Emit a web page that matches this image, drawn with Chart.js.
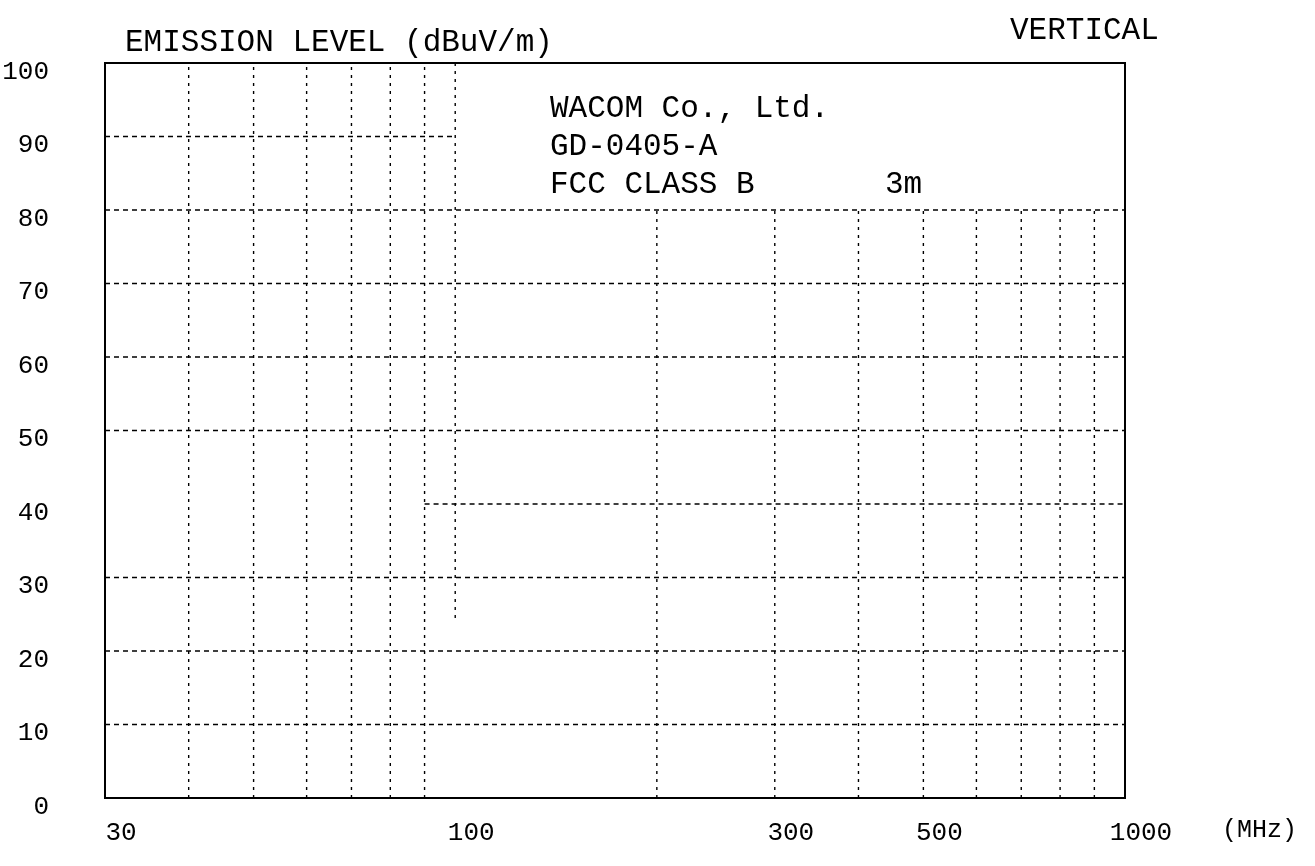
<!DOCTYPE html>
<html>
<head>
<meta charset="utf-8">
<script src="https://cdn.jsdelivr.net/npm/chart.js@4/dist/chart.umd.min.js"></script>
<style>
html,body{margin:0;padding:0;background:#fff;}
#wrap{width:1315px;height:866px;position:relative;}
</style>
</head>
<body>
<div id="wrap"><canvas id="c"></canvas></div>
<script>
// ---- data (frequency in MHz, level in dBuV/m) ----
const xTickValues = [30, 100, 300, 500, 1000];
const xTickLabels = ['30', '100', '300', '500', '1000'];
const yTickValues = [0, 10, 20, 30, 40, 50, 60, 70, 80, 90, 100];
// vertical grid lines: frequency, from level, to level
const vGridFreq = [40, 50, 60, 70, 80, 90, 100, 200, 300, 400, 500, 600, 700, 800, 900];
const vGridFrom = [0, 0, 0, 0, 0, 0, 24.5, 0, 0, 0, 0, 0, 0, 0, 0];
const vGridTo   = [100, 100, 100, 100, 100, 100, 100, 80, 80, 80, 80, 80, 80, 80, 80];
// horizontal grid lines: level, from frequency, to frequency
const hGridLevel = [10, 20, 30, 40, 50, 60, 70, 80, 90];
const hGridFrom  = [30, 30, 30, 90, 30, 30, 30, 30, 30];
const hGridTo    = [1000, 1000, 1000, 1000, 1000, 1000, 1000, 1000, 100];
const titleText = 'EMISSION LEVEL (dBuV/m)';
const polText = 'VERTICAL';
const infoLines = ['WACOM Co., Ltd.', 'GD-0405-A', 'FCC CLASS B'];
const distText = '3m';
const unitText = '(MHz)';

const FONT = '"Liberation Mono", "DejaVu Sans Mono", monospace';

const datasets = [];
vGridFreq.forEach((f, i) => {
  datasets.push({
    data: [{x: f, y: vGridFrom[i]}, {x: f, y: vGridTo[i]}],
    borderColor: '#000', borderWidth: 1.4, borderDash: [3, 5],
    pointRadius: 0, fill: false, tension: 0
  });
});
hGridLevel.forEach((l, i) => {
  datasets.push({
    data: [{x: hGridFrom[i], y: l}, {x: hGridTo[i], y: l}],
    borderColor: '#000', borderWidth: 1.4, borderDash: [5, 4],
    pointRadius: 0, fill: false, tension: 0
  });
});

const framePlugin = {
  id: 'frame',
  afterDraw(chart) {
    const ctx = chart.ctx, a = chart.chartArea;
    ctx.save();
    ctx.strokeStyle = '#000';
    ctx.lineWidth = 2;
    ctx.strokeRect(a.left, a.top, a.right - a.left, a.bottom - a.top);
    ctx.fillStyle = '#000';
    ctx.textBaseline = 'alphabetic';
    ctx.textAlign = 'left';
    ctx.font = '31px ' + FONT;
    ctx.fillText(titleText, 125, 51);
    ctx.fillText(polText, 1010, 39);
    const lh = 38;
    infoLines.forEach((t, i) => ctx.fillText(t, 550, 117 + i * lh));
    ctx.fillText(distText, 885, 193);
    ctx.font = '25px ' + FONT;
    ctx.fillText(unitText, 1222, 837);
    ctx.restore();
  }
};

new Chart(document.getElementById('c'), {
  type: 'line',
  data: { datasets },
  options: {
    responsive: true,
    maintainAspectRatio: false,
    animation: false,
    layout: { padding: { top: 63, right: 190, left: 0, bottom: 0 } },
    plugins: { legend: { display: false }, tooltip: { enabled: false } },
    elements: { line: { borderCapStyle: 'butt' } },
    scales: {
      x: {
        type: 'logarithmic', min: 30, max: 1000,
        afterBuildTicks(scale) { scale.ticks = xTickValues.map(v => ({ value: v })); },
        afterFit(scale) { scale.height = 68; scale.paddingLeft = 0; scale.paddingRight = 0; },
        grid: { display: false, drawTicks: false },
        border: { display: true, color: '#000', width: 2 },
        ticks: {
          color: '#000', padding: 20, labelOffset: 16, maxRotation: 0, autoSkip: false,
          font: { family: FONT, size: 26 },
          callback(v) { const i = xTickValues.indexOf(v); return i >= 0 ? xTickLabels[i] : ''; }
        }
      },
      y: {
        type: 'linear', min: 0, max: 100,
        afterBuildTicks(scale) { scale.ticks = yTickValues.map(v => ({ value: v })); },
        afterFit(scale) { scale.width = 105; scale.paddingTop = 0; scale.paddingBottom = 0; },
        grid: { display: false, drawTicks: false },
        border: { display: true, color: '#000', width: 2 },
        ticks: {
          color: '#000', padding: 56, labelOffset: 9,
          font: { family: FONT, size: 26 }
        }
      }
    }
  },
  plugins: [framePlugin]
});
</script>
</body>
</html>
